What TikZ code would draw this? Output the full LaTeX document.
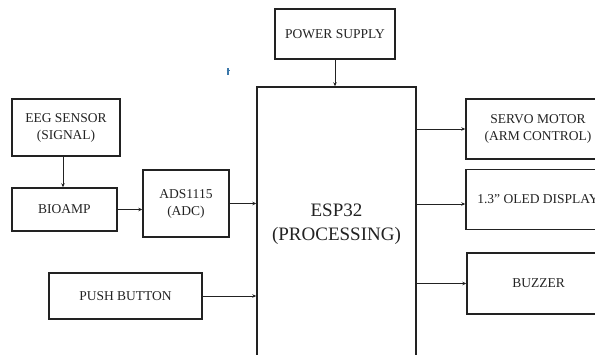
\documentclass[tikz,border=0pt]{standalone}
\usepackage{fontspec}
\setmainfont{Liberation Serif}
\usetikzlibrary{arrows.meta,calc}
\definecolor{ink}{HTML}{222222}
\tikzset{
  blk/.style={draw=ink, line width=1.4pt, rectangle, inner sep=0pt, align=center,
    text=ink, font=\fontsize{13.5}{17}\selectfont},
  conn/.style={draw=ink, line width=1pt, -{Stealth[length=4pt,width=3.5pt]}}
}
\begin{document}
\begin{tikzpicture}[x=1pt,y=-1pt]
\useasboundingbox (0,0) rectangle (595,354);
\node[blk, minimum width=120pt, minimum height=50pt] (power) at (335,34) {POWER SUPPLY};
\node[blk, minimum width=159pt, minimum height=292pt] (esp) at (336.5,233) {};
\node[text=ink, align=center, font=\fontsize{19}{24}\selectfont] (esptext) at (336.5,224) {ESP32\\(PROCESSING)};
\node[blk, minimum width=108pt, minimum height=57pt] (eeg) at (66,127.5) {EEG SENSOR\\(SIGNAL)};
\node[blk, minimum width=105pt, minimum height=43pt] (bioamp) at (64.5,209.5) {BIOAMP};
\node[blk, minimum width=86pt, minimum height=67pt] (ads) at (186,203.5) {ADS1115\\(ADC)};
\node[blk, minimum width=153pt, minimum height=46pt] (push) at (125.5,296) {PUSH BUTTON};
\node[blk, minimum width=144pt, minimum height=60pt] (servo) at (538,129) {SERVO MOTOR\\(ARM CONTROL)};
\node[blk, minimum width=144pt, minimum height=60pt] (oled) at (538,199.5) {1.3” OLED DISPLAY};
\node[blk, minimum width=143pt, minimum height=61pt] (buzzer) at (538.5,283.5) {BUZZER};
% connectors
\draw[conn] (power.south) -- (power.south |- esp.north);
\draw[conn] ($(eeg.south)+(-3,0)$) -- ($(eeg.south |- bioamp.north)+(-3,0)$);
\draw[conn] (bioamp.east) -- (bioamp.east -| ads.west);
\draw[conn] (ads.east) -- (ads.east -| esp.west);
\draw[conn] (push.east) -- (push.east -| esp.west);
\draw[conn] (servo.west -| esp.east) -- (servo.west);
\draw[conn] ($(oled.west -| esp.east)+(0,4.5)$) -- ($(oled.west)+(0,4.5)$);
\draw[conn] (buzzer.west -| esp.east) -- (buzzer.west);
% small blue mark
\draw[color={rgb,255:red,60;green,120;blue,170}, line width=1.2pt] (228,68) -- (228,74.5);
\draw[color={rgb,255:red,60;green,120;blue,170}, line width=0.8pt] (226.5,70) -- (229.5,70);
\end{tikzpicture}
\end{document}
